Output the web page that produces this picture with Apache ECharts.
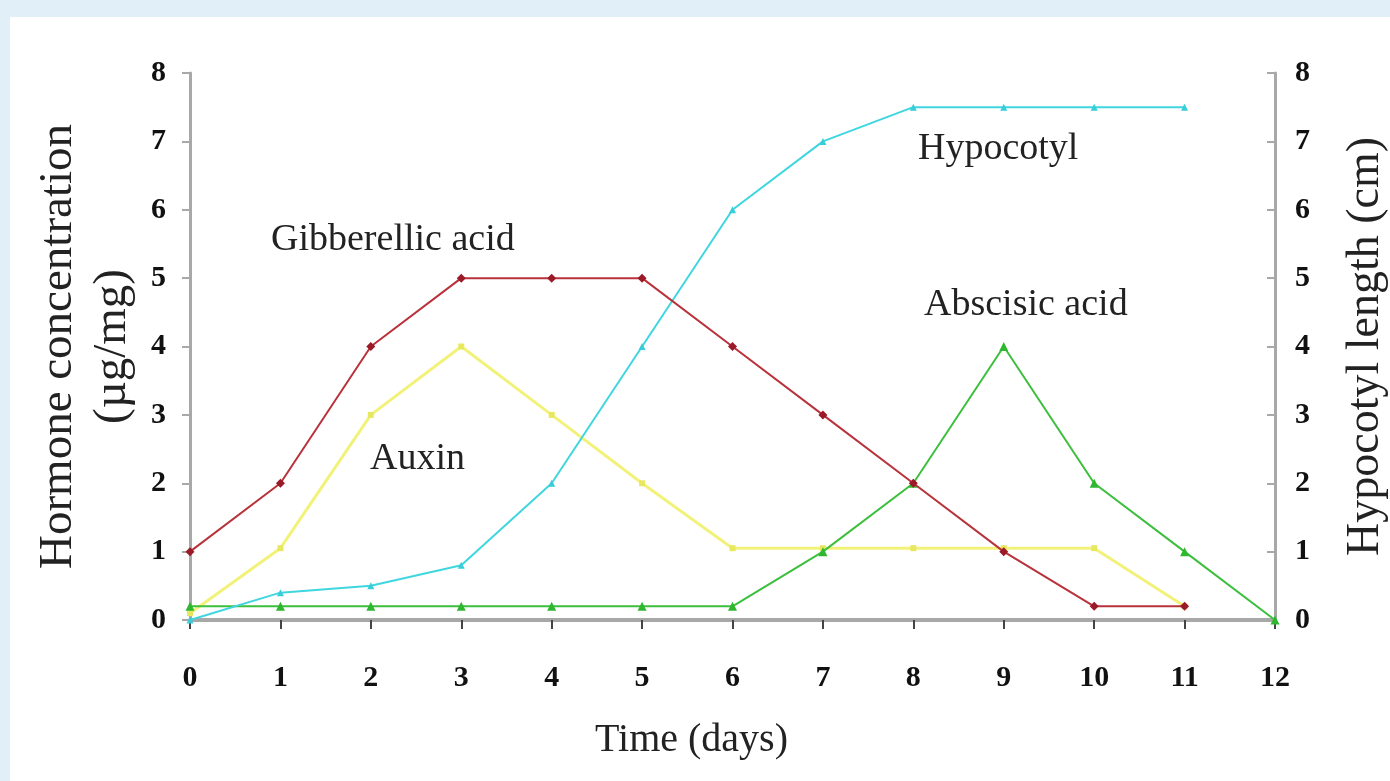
<!DOCTYPE html>
<html>
<head>
<meta charset="utf-8">
<script src="https://cdn.jsdelivr.net/npm/echarts@6/dist/echarts.min.js"></script>
<style>
html,body{margin:0;padding:0;width:1390px;height:781px;overflow:hidden;background:#e1eff8;}
#chart{position:absolute;left:10px;top:17px;width:1380px;height:764px;background:#ffffff;}
</style>
</head>
<body>
<div id="chart"></div>
<script>
const days = [0,1,2,3,4,5,6,7,8,9,10,11,12];
const gibberellic = [1,2,4,5,5,5,4,3,2,1,0.2,0.2];
const auxin = [0.1,1.05,3,4,3,2,1.05,1.05,1.05,1.05,1.05,0.2];
const hypocotyl = [0,0.4,0.5,0.8,2,4,6,7,7.5,7.5,7.5,7.5];
const abscisic = [0.2,0.2,0.2,0.2,0.2,0.2,0.2,1,2,4,2,1,0];
const yTicks = [0,1,2,3,4,5,6,7,8];

function pairs(vals){ return vals.map((v,i)=>[days[i], v]); }

const chart = echarts.init(document.getElementById('chart'));
const serif = '"Liberation Serif","DejaVu Serif",serif';
const axisGrey = '#a8a8a8';

const tickLabel = {fontFamily: serif, fontWeight: 'bold', fontSize: 30, color: '#111'};

chart.setOption({
  animation: false,
  grid: {left: 180, right: 115, top: 56, bottom: 161, outerBoundsMode: 'none', containLabel: false},
  xAxis: {
    type: 'value', min: 0, max: 12, interval: 1,
    name: 'Time (days)', nameLocation: 'middle', nameGap: 100,
    nameTextStyle: {fontFamily: serif, fontSize: 40, color: '#222', padding: [0, 82, 0, 0]},
    axisLine: {lineStyle: {color: axisGrey, width: 4}},
    axisTick: {show: true, length: 9, lineStyle: {color: '#444', width: 2}},
    axisLabel: Object.assign({margin: 43, formatter: v => String(v)}, tickLabel),
    splitLine: {show: false}
  },
  yAxis: [{
    type: 'value', min: 0, max: 8, interval: 1, position: 'left',
    name: 'Hormone concentration\n(µg/mg)', nameLocation: 'middle', nameGap: 50, nameRotate: 90,
    nameTextStyle: {fontFamily: serif, fontSize: 47, color: '#222', lineHeight: 54},
    axisLine: {show: true, lineStyle: {color: axisGrey, width: 3}},
    axisTick: {show: true, length: 8, lineStyle: {color: axisGrey, width: 2}},
    axisLabel: Object.assign({margin: 24, formatter: v => String(yTicks[v] ?? v)}, tickLabel),
    splitLine: {show: false}
  },{
    type: 'value', min: 0, max: 8, interval: 1, position: 'right',
    name: 'Hypocotyl length (cm)', nameLocation: 'middle', nameGap: 68, nameRotate: 90,
    nameTextStyle: {fontFamily: serif, fontSize: 46, color: '#222'},
    axisLine: {show: true, lineStyle: {color: axisGrey, width: 3}},
    axisTick: {show: true, inside: true, length: 8, lineStyle: {color: axisGrey, width: 2}},
    axisLabel: Object.assign({margin: 20, formatter: v => String(yTicks[v] ?? v)}, tickLabel),
    splitLine: {show: false}
  }],
  series: [
    {name: 'Auxin', type: 'line', data: pairs(auxin), symbol: 'rect', symbolSize: 6,
     lineStyle: {color: '#f2f27a', width: 3}, itemStyle: {color: '#e8e860'}, z: 2},
    {name: 'Abscisic acid', type: 'line', data: pairs(abscisic), symbol: 'triangle', symbolSize: 9,
     lineStyle: {color: '#3cbf3c', width: 2}, itemStyle: {color: '#2fb82f'}, z: 3},
    {name: 'Hypocotyl', type: 'line', yAxisIndex: 1, data: pairs(hypocotyl), symbol: 'triangle', symbolSize: 7,
     lineStyle: {color: '#3fd6df', width: 2}, itemStyle: {color: '#38cdd8'}, z: 4},
    {name: 'Gibberellic acid', type: 'line', data: pairs(gibberellic), symbol: 'diamond', symbolSize: 9,
     lineStyle: {color: '#b8323c', width: 2}, itemStyle: {color: '#9a1a28'}, z: 5}
  ],
  graphic: [
    {type: 'text', left: 390-129, top: 226-22, style: {text: 'Gibberellic acid', font: '38px ' + serif, fill: '#222'}},
    {type: 'text', left: 409-49, top: 445-22, style: {text: 'Auxin', font: '38px ' + serif, fill: '#222'}},
    {type: 'text', left: 993-85, top: 135-22, style: {text: 'Hypocotyl', font: '38px ' + serif, fill: '#222'}},
    {type: 'text', left: 1021-107, top: 291-22, style: {text: 'Abscisic acid', font: '38px ' + serif, fill: '#222'}}
  ]
});
</script>
</body>
</html>
